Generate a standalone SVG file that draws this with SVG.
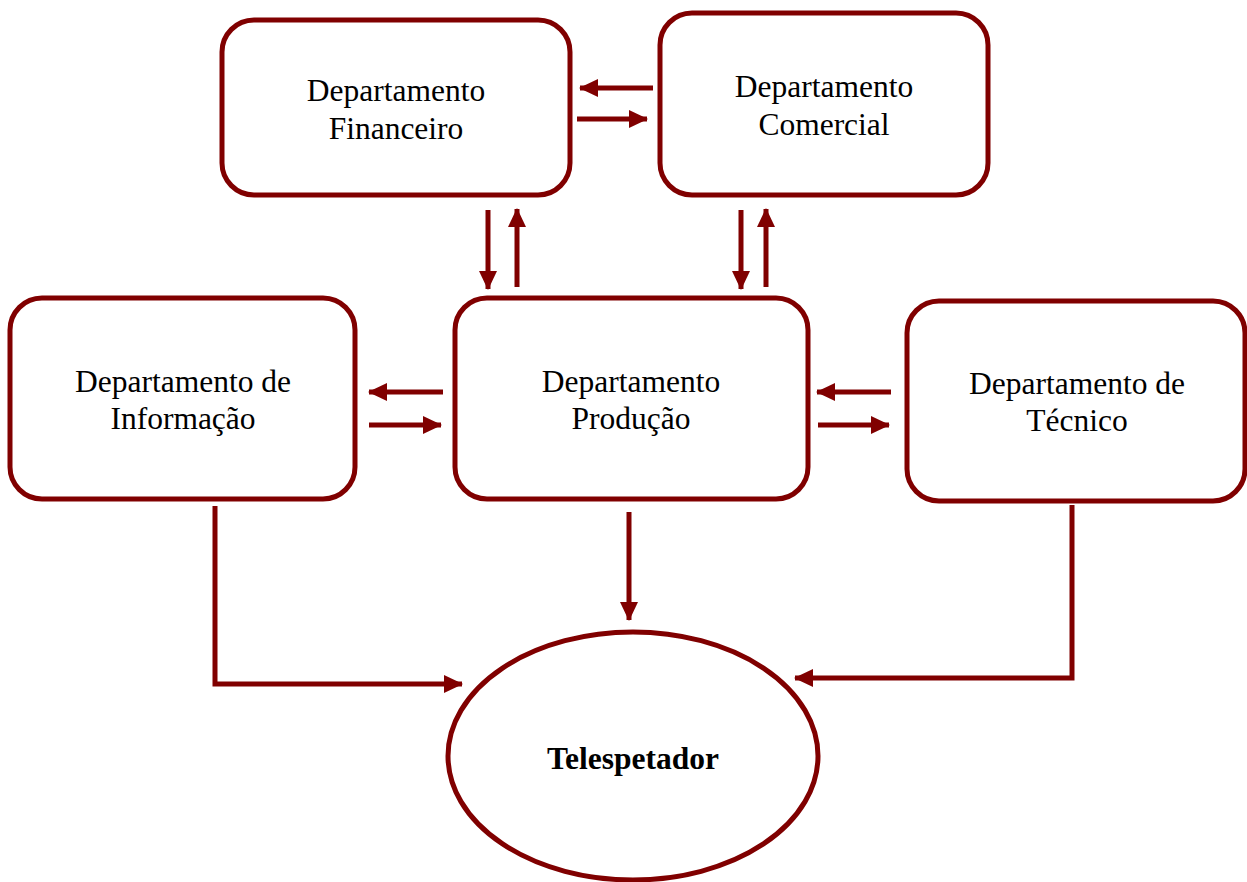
<svg xmlns="http://www.w3.org/2000/svg" width="1247" height="882" viewBox="0 0 1247 882">
<style>
.box{fill:#fff;stroke:#800000;stroke-width:5}
.t{font-family:"Liberation Serif","Times New Roman",serif;font-size:31.5px;fill:#000;text-anchor:middle}
.b{font-weight:bold}
.c{fill:none;stroke:#800000;stroke-width:5}
</style>
<defs>
<marker id="ah" markerUnits="userSpaceOnUse" markerWidth="20" markerHeight="20" viewBox="0 0 20 20" refX="18" refY="10" orient="auto">
<polygon points="0,1 19,10 0,19" fill="#800000"/>
</marker>
</defs>
<rect width="1247" height="882" fill="#fff"/>
<g id="financeiro"><rect class="box" x="222" y="20" width="348" height="175" rx="32"/>
<text class="t" x="396" y="101">Departamento</text><text class="t" x="396" y="139">Financeiro</text></g>
<g id="comercial"><rect class="box" x="660" y="13" width="328" height="182" rx="32"/>
<text class="t" x="824" y="97">Departamento</text><text class="t" x="824" y="135">Comercial</text></g>
<g id="informacao"><rect class="box" x="10" y="298" width="345" height="201" rx="32"/>
<text class="t" x="183" y="392">Departamento de</text><text class="t" x="183" y="429">Informação</text></g>
<g id="producao"><rect class="box" x="455" y="298" width="353" height="201" rx="32"/>
<text class="t" x="631" y="392">Departamento</text><text class="t" x="631" y="429">Produção</text></g>
<g id="tecnico"><rect class="box" x="907" y="301" width="338" height="200" rx="32"/>
<text class="t" x="1077" y="394">Departamento de</text><text class="t" x="1077" y="431">Técnico</text></g>
<g id="telespetador"><ellipse class="box" cx="633" cy="756" rx="185" ry="124"/>
<text class="t b" x="633" y="769">Telespetador</text></g>
<g id="connectors">
<line class="c" x1="653" y1="88" x2="580" y2="88" marker-end="url(#ah)"/>
<line class="c" x1="577" y1="119" x2="647" y2="119" marker-end="url(#ah)"/>
<line class="c" x1="488" y1="210" x2="488" y2="289" marker-end="url(#ah)"/>
<line class="c" x1="517" y1="287" x2="517" y2="209" marker-end="url(#ah)"/>
<line class="c" x1="741" y1="210" x2="741" y2="289" marker-end="url(#ah)"/>
<line class="c" x1="766" y1="287" x2="766" y2="209" marker-end="url(#ah)"/>
<line class="c" x1="443" y1="392" x2="369" y2="392" marker-end="url(#ah)"/>
<line class="c" x1="369" y1="425" x2="441" y2="425" marker-end="url(#ah)"/>
<line class="c" x1="891" y1="392" x2="817" y2="392" marker-end="url(#ah)"/>
<line class="c" x1="818" y1="425" x2="889" y2="425" marker-end="url(#ah)"/>
<line class="c" x1="629" y1="512" x2="629" y2="620" marker-end="url(#ah)"/>
<polyline class="c" points="215,506 215,684 462,684" marker-end="url(#ah)"/>
<polyline class="c" points="1072,505 1072,678 795,678" marker-end="url(#ah)"/>
</g>
</svg>
